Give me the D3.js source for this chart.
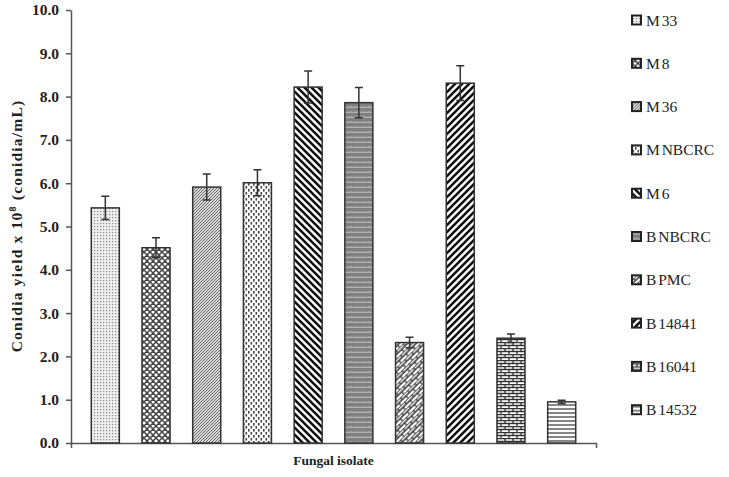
<!DOCTYPE html>
<html>
<head>
<meta charset="utf-8">
<script src="https://cdnjs.cloudflare.com/ajax/libs/d3/7.8.5/d3.min.js"></script>
<style>
	body { margin: 0; background: #fff; }
	text { font-family: "Liberation Serif", "Times New Roman", serif; fill: #222; }
</style>
</head>
<body>
<script>
'use strict';

// Chart data
const isolates = ["M 33", "M 8", "M 36", "M NBCRC", "M 6", "B NBCRC", "B PMC", "B 14841", "B 16041", "B 14532"];
const yields = [5.43, 4.51, 5.91, 6.01, 8.22, 7.86, 2.32, 8.31, 2.42, 0.95];
const errors = [0.27, 0.23, 0.30, 0.30, 0.37, 0.35, 0.12, 0.40, 0.10, 0.04];
const yTicks = [0, 1, 2, 3, 4, 5, 6, 7, 8, 9, 10];

const params = {
	width: 729,
	height: 477,
	left: 71,
	right: 596,
	top: 10,
	bottom: 443,
	ink: "#333"
};

const svg = d3.select("body")
	.append("svg")
	.attr("width", params.width)
	.attr("height", params.height)

const defs = svg.append("defs");

// Fill patterns, one for each isolate (in order)
const makePattern = (id, w, h, draw, transform) => {
	const p = defs.append("pattern")
		.attr("id", id)
		.attr("patternUnits", "userSpaceOnUse")
		.attr("width", w)
		.attr("height", h)
	if (transform) p.attr("patternTransform", transform)
	draw(p);
}

makePattern("p0", 3, 3, p => {
	p.append("rect").attr("width", 3).attr("height", 3).attr("fill", "#eee")
	p.append("rect").attr("x", 1).attr("y", 1).attr("width", 1.2).attr("height", 1.2).attr("fill", "#888")
})
makePattern("p1", 6, 6, p => {
	p.append("rect").attr("width", 6).attr("height", 6).attr("fill", "#fff")
	p.append("path").attr("d", "M0,0L6,6M6,0L0,6M-3,3L0,6M3,-3L6,0M3,9L6,6M9,3L6,0")
		.attr("stroke", "#444").attr("stroke-width", 1.5)
})
makePattern("p2", 3, 3, p => {
	p.append("rect").attr("width", 3).attr("height", 3).attr("fill", "#ddd")
	p.append("path").attr("d", "M-1,4L4,-1M-1,1L1,-1M2,4L4,2")
		.attr("stroke", "#555").attr("stroke-width", 0.9)
})
makePattern("p3", 5, 6, p => {
	p.append("rect").attr("width", 5).attr("height", 6).attr("fill", "#fff")
	p.append("rect").attr("x", 0.5).attr("y", 0).attr("width", 1.6).attr("height", 2.6).attr("fill", "#444")
	p.append("rect").attr("x", 3).attr("y", 3).attr("width", 1.6).attr("height", 2.6).attr("fill", "#444")
})
makePattern("p4", 7, 7, p => {
	p.append("rect").attr("width", 7).attr("height", 7).attr("fill", "#fff")
	p.append("path").attr("d", "M0,0L7,7M-7,0L7,14M0,-7L14,7")
		.attr("stroke", "#111").attr("stroke-width", 2.6)
})
makePattern("p5", 6, 5, p => {
	p.append("rect").attr("width", 6).attr("height", 5).attr("fill", "#808080")
	p.append("path").attr("d", "M0,1.5L1.5,3L3,1.5L4.5,3L6,1.5")
		.attr("stroke", "#d4d4d4").attr("stroke-width", 1).attr("fill", "none")
})
makePattern("p6", 10, 6, p => {
	p.append("rect").attr("width", 10).attr("height", 6).attr("fill", "#fff")
	p.append("path").attr("d", "M0,0H10M0,3H10M2,0V3M7,3V6")
		.attr("stroke", "#333").attr("stroke-width", 1.3)
}, "rotate(-45)")
makePattern("p7", 7, 7, p => {
	p.append("rect").attr("width", 7).attr("height", 7).attr("fill", "#fff")
	p.append("path").attr("d", "M0,7L7,0M-7,7L7,-7M0,14L14,0")
		.attr("stroke", "#111").attr("stroke-width", 2.6)
})
makePattern("p8", 8, 6, p => {
	p.append("rect").attr("width", 8).attr("height", 6).attr("fill", "#fff")
	p.append("path").attr("d", "M0,0.5H8M0,3.5H8M1,0.5V3.5M5,3.5V6.5")
		.attr("stroke", "#333").attr("stroke-width", 1.3)
})
makePattern("p9", 4, 4, p => {
	p.append("rect").attr("width", 4).attr("height", 4).attr("fill", "#fff")
	p.append("path").attr("d", "M0,1H4").attr("stroke", "#444").attr("stroke-width", 1.3)
})

// Scales
const xScale = d3.scaleBand()
	.domain(isolates)
	.range([params.left, params.right])
	.paddingInner(0.447)
	.paddingOuter(0.4)

const yScale = d3.scaleLinear()
	.domain([0, 10])
	.range([params.bottom, params.top])

// Axes
const yAxis = svg.append("g")
	.attr("transform", `translate(${params.left}, 0)`)
	.call(d3.axisLeft(yScale).tickValues(yTicks).tickFormat(d3.format(".1f")).tickSize(5).tickSizeOuter(0).tickPadding(7))
yAxis.selectAll("line, path").attr("stroke", "#555").attr("stroke-width", 1.5)
yAxis.selectAll("text")
	.attr("font-family", "Liberation Serif")
	.attr("font-size", 15.5)
	.attr("font-weight", "bold")
	.attr("fill", "#222")

const xAxis = svg.append("g")
	.attr("transform", `translate(0, ${params.bottom})`)
	.call(d3.axisBottom(xScale).tickValues([]).tickSizeOuter(5))
xAxis.select("path").attr("stroke", "#555").attr("stroke-width", 1.5)

// Bars
svg.append("g")
	.selectAll("rect")
	.data(isolates)
	.join("rect")
	.attr("x", d => xScale(d))
	.attr("y", (d, i) => yScale(yields[i]))
	.attr("width", xScale.bandwidth())
	.attr("height", (d, i) => yScale(0) - yScale(yields[i]))
	.attr("fill", (d, i) => `url(#p${i})`)
	.attr("stroke", params.ink)
	.attr("stroke-width", 1.5)

// Error bars
const capW = 4;
svg.append("g")
	.attr("stroke", params.ink)
	.attr("stroke-width", 1.5)
	.selectAll("path")
	.data(isolates)
	.join("path")
	.attr("fill", "none")
	.attr("d", (d, i) => {
		const cx = xScale(d) + xScale.bandwidth() / 2;
		const hi = yScale(yields[i] + errors[i]);
		const lo = yScale(yields[i] - errors[i]);
		return `M${cx - capW},${hi}H${cx + capW}M${cx},${hi}V${lo}M${cx - capW},${lo}H${cx + capW}`;
	})

// Axis titles
svg.append("text")
	.attr("transform", "translate(22, 226) rotate(-90)")
	.attr("text-anchor", "middle")
	.attr("font-size", 15.5)
	.attr("font-weight", "bold")
	.attr("letter-spacing", 1.2)
	.call(t => {
		t.append("tspan").text("Conidia yield x 10")
		t.append("tspan").attr("font-size", 10).attr("dy", -6).text("8")
		t.append("tspan").attr("dy", 6).text(" (conidia/mL)")
	})

svg.append("text")
	.attr("x", (params.left + params.right) / 2)
	.attr("y", 465)
	.attr("text-anchor", "middle")
	.attr("font-size", 13.5)
	.attr("font-weight", "bold")
	.text("Fungal isolate")

// Legend
const legend = svg.append("g")
	.selectAll("g")
	.data(isolates)
	.join("g")
	.attr("transform", (d, i) => `translate(632, ${20 + i * 43.3})`)

legend.append("rect")
	.attr("x", 0)
	.attr("y", -4.5)
	.attr("width", 9)
	.attr("height", 9)
	.attr("fill", (d, i) => `url(#p${i})`)
	.attr("stroke", "#222")
	.attr("stroke-width", 2)

legend.append("text")
	.attr("x", 14)
	.attr("y", 5.5)
	.attr("font-size", 15.5)
	.attr("word-spacing", -2)
	.text(d => d)
</script>
</body>
</html>
